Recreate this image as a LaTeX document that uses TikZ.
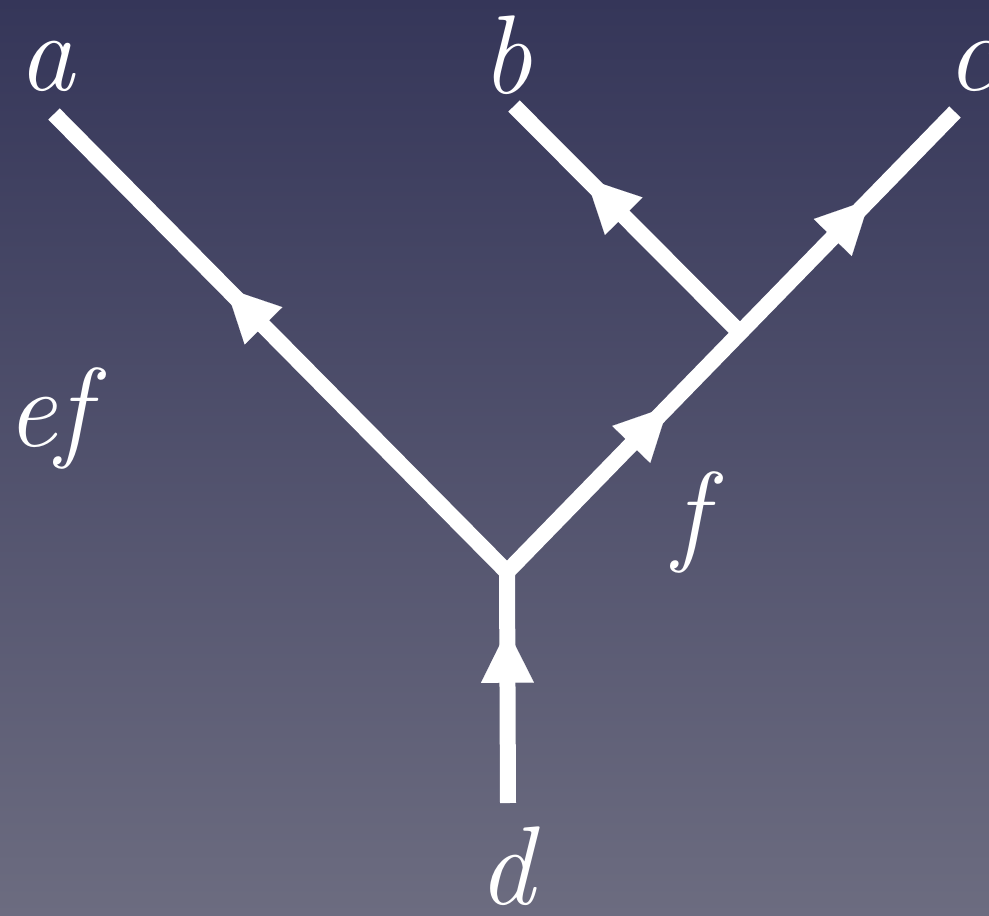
\documentclass[tikz,border=0pt]{standalone}
\usetikzlibrary{arrows.meta,decorations.markings,calc}
\definecolor{bgtop}{RGB}{53,54,89}
\definecolor{bgbot}{RGB}{108,108,128}
\tikzset{
  wire/.style={draw=white,line width=16pt,line cap=butt},
  lbl/.style={text=white,anchor=base,inner sep=0pt,font=\fontsize{112}{112}\selectfont\itshape},
  tipat/.style={postaction={decorate,decoration={markings,
     mark=at position #1 with {\arrow[white,line width=0.1pt]{Triangle[length=53pt,width=53pt]}}}}}
}
\begin{document}
\begin{tikzpicture}[x=1pt,y=-1pt]
\fill[top color=bgtop,bottom color=bgbot] (0,0) rectangle (989,916);
\useasboundingbox (0,0) rectangle (989,916);
\coordinate (j) at (507,572);
\coordinate (ea) at (54,114);
\coordinate (eb) at (514,106);
\coordinate (ec) at (955,112);
\coordinate (ed) at (508,803);
\coordinate (bj) at ($(j)!0.52!(ec)$);
\draw[wire,tipat=0.62] (j) -- (ea);
\draw[wire,tipat=0.81,tipat=0.36] (j) -- (ec);
\draw[wire,tipat=0.68] (bj) -- (eb);
\draw[wire,tipat=0.75] (ed) -- (j);
\node[lbl] (la) at (46,90) {a};
\node[lbl] (lb) at (507,93) {b};
\node[lbl] (lc) at (972,90) {c};
\node[lbl] (lef) at (48,446) {ef};
\node[lbl] (lf) at (690,550) {f};
\node[lbl] (ld) at (506,904) {d};
\end{tikzpicture}
\end{document}
